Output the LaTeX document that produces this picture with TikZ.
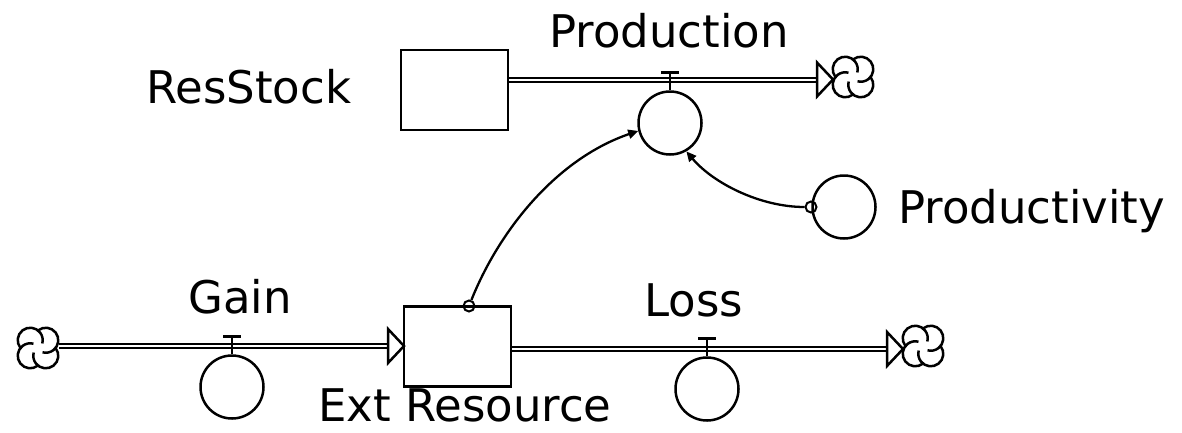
\documentclass[tikz,border=0pt]{standalone}
\usepackage{fontspec}
\setmainfont{DejaVu Sans}
\usetikzlibrary{arrows.meta}
\tikzset{
  sdcloud/.pic={\foreach \a in {45,135,225,315}{\draw (\a:11) ++(\a-83:12.5) arc[start angle=\a-83, end angle=\a+150, radius=12.5];}},
  flowhead/.pic={\draw[fill=white] (0,0) -- (-16,-17) -- (-16,17) -- cycle;},
  valvetop/.pic={\draw (0,0) -- (0,-18) ++(-9,0) -- ++(18,0);}
}
\begin{document}
\begin{tikzpicture}[x=1pt,y=-1pt, line width=2.5pt,
  stock/.style={draw, minimum width=107pt, minimum height=80pt, inner sep=0pt},
  aux/.style={draw, circle, minimum size=63pt, inner sep=0pt},
  tail/.style={draw, circle, minimum size=11pt, inner sep=0pt, line width=2pt},
  lbl/.style={font=\fontsize{45}{52}\selectfont, inner sep=0pt, anchor=base west, text depth=0pt},
  pipe/.style={double, double distance=2pt, line width=2pt},
  conn/.style={line width=2.3pt, -{Triangle[length=10pt,width=9pt]}}
  ]
\useasboundingbox (0,0) rectangle (1182,432);

% stocks
\node[stock] (rs) at (454.5,90) {};
\node[stock] (er) at (457.5,346.5) {};
% valves and auxiliary
\node[aux] (pv) at (670,123) {};
\node[aux] (gv) at (232,387) {};
\node[aux] (lv) at (707,389) {};
\node[aux] (pr) at (844,207) {};
% clouds
\coordinate (c1) at (853,77);
\coordinate (c2) at (38,348);
\coordinate (c3) at (923,346);
\pic at (c1) {sdcloud};
\pic at (c2) {sdcloud};
\pic at (c3) {sdcloud};
% pipe tips
\coordinate (p1) at (833,79.5);
\coordinate (g1) at (404,346);
\coordinate (l1) at (903,349);

% Production flow
\draw[pipe] (rs.east |- p1) -- ([xshift=-16pt]p1);
\pic at (p1) {flowhead};
\pic at (pv.north) {valvetop};
% Gain flow
\draw[pipe] ([xshift=21pt]c2 |- g1) -- ([xshift=-16pt]g1);
\pic at (g1) {flowhead};
\pic at (gv.north) {valvetop};
% Loss flow
\draw[pipe] (er.east |- l1) -- ([xshift=-16pt]l1);
\pic at (l1) {flowhead};
\pic at (lv.north) {valvetop};

% connectors
\node[tail] (t1) at (469,306) {};
\draw[conn] (t1) .. controls (499,231) and (556,159) .. (pv.194);
\node[tail] (t2) at (811,207) {};
\draw[conn] (t2) .. controls (760,207) and (713,183) .. (pv.300);

% labels
\node[lbl] (lrs) at (145,103) {ResStock};
\node[lbl] (lpv) at (548,47) {Production};
\node[lbl] (lpr) at (897,223) {Productivity};
\node[lbl] (lg) at (187,313) {Gain};
\node[lbl] (ll) at (643,316) {Loss};
\node[lbl] (le) at (317,421) {Ext Resource};
\end{tikzpicture}
\end{document}
